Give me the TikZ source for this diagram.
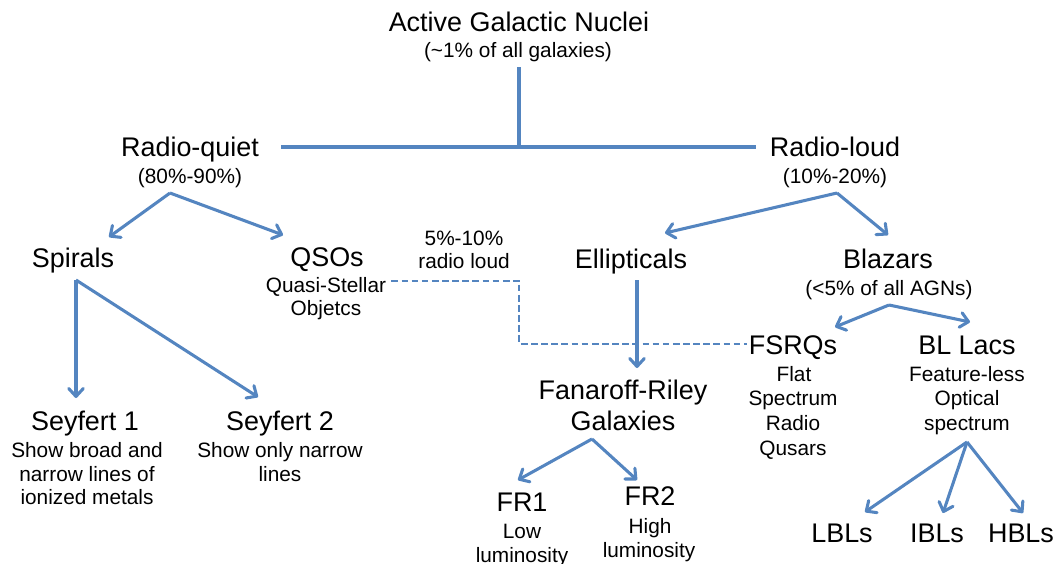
\documentclass[tikz,border=0pt]{standalone}
\usepackage{fontspec}
\setmainfont{Liberation Sans}
\usetikzlibrary{arrows.meta,calc}
\definecolor{ln}{RGB}{84,133,192}
\begin{document}
\begin{tikzpicture}[x=0.75pt,y=-0.75pt,
  big/.style={inner sep=0pt,text height=14.5pt,text depth=0pt,font=\fontsize{20.2pt}{24pt}\selectfont},
  small/.style={inner sep=0pt,text height=11.2pt,text depth=0pt,font=\fontsize{15.6pt}{19pt}\selectfont},
  link/.style={draw=ln,line width=2.3pt},
  arr/.style={link,-{Straight Barb[length=6pt,width=11pt,round]}},
  dashlink/.style={draw=ln,line width=1.6pt,dash pattern=on 5pt off 2.6pt}]
\useasboundingbox (0,0) rectangle (1058,564);
% nodes
\node[big]   (agn)  at (519,22)  {Active Galactic Nuclei};
\node[small] (agnp) at (518,50)  {(\textasciitilde1\% of all galaxies)};
\node[big]   (rq)   at (190,147) {Radio-quiet};
\node[small] (rqp)  at (190,176) {(80\%-90\%)};
\node[big]   (rl)   at (835,147) {Radio-loud};
\node[small] (rlp)  at (835,176) {(10\%-20\%)};
\node[big]   (sp)   at (73,258)  {Spirals};
\node[big]   (qso)  at (327,257) {QSOs};
\node[small] (qso1) at (326,285) {Quasi-Stellar};
\node[small] (qso2) at (326,308) {Objetcs};
\node[small] (rl5)  at (464,238) {5\%-10\%};
\node[small] (rl6)  at (464,261) {radio loud};
\node[big]   (ell)  at (631,259) {Ellipticals};
\node[big]   (bla)  at (888,259) {Blazars};
\node[small] (blap) at (889,288) {(<5\% of all AGNs)};
\node[big]   (fsrq) at (793,345) {FSRQs};
\node[small] (fsa)  at (794,374) {Flat};
\node[small] (fsb)  at (793,398) {Spectrum};
\node[small] (fsc)  at (793,423) {Radio};
\node[small] (fsd)  at (793,448) {Qusars};
\node[big]   (bll)  at (967,345) {BL Lacs};
\node[small] (bla1) at (967,374) {Feature-less};
\node[small] (bla2) at (967,398) {Optical};
\node[small] (bla3) at (967,423) {spectrum};
\node[big]   (fr)   at (623,390) {Fanaroff-Riley};
\node[big]   (frg)  at (623,421) {Galaxies};
\node[big]   (fr1)  at (522,502) {FR1};
\node[small] (fr1a) at (522,531) {Low};
\node[small] (fr1b) at (522,555) {luminosity};
\node[big]   (fr2)  at (650,496) {FR2};
\node[small] (fr2a) at (650,526) {High};
\node[small] (fr2b) at (649,550) {luminosity};
\node[big]   (sy1)  at (85,421)  {Seyfert 1};
\node[small] (sy1a) at (87,450)  {Show broad and};
\node[small] (sy1b) at (87,474)  {narrow lines of};
\node[small] (sy1c) at (87,497)  {ionized metals};
\node[big]   (sy2)  at (280,421) {Seyfert 2};
\node[small] (sy2a) at (280,450) {Show only narrow};
\node[small] (sy2b) at (280,474) {lines};
\node[big]   (lbl)  at (842,533) {LBLs};
\node[big]   (ibl)  at (937,533) {IBLs};
\node[big]   (hbl)  at (1021,533) {HBLs};
% fork points
\coordinate (j)    at ($(agnp)+(1,97)$);
\coordinate (rqf)  at ($(rqp)+(-20,17)$);
\coordinate (rlf)  at ($(rlp)+(2,17)$);
\coordinate (spf)  at ($(sp)+(3,22)$);
\coordinate (blaf) at ($(blap)+(0,17)$);
\coordinate (frf)  at ($(frg)+(-31,18)$);
\coordinate (bllf) at ($(bla3)+(0,19)$);
% connectors
\draw[link] ($(agnp)+(1,17)$) -- (j);
\draw[link] ($(rq.east)+(22,0)$) -- ($(rl.west)+(-14,0)$);
\draw[arr] (rqf) -- ($(sp)+(36,-21)$);
\draw[arr] (rqf) -- ($(qso)+(-44,-22)$);
\draw[arr] (rlf) -- ($(ell)+(34,-26)$);
\draw[arr] (rlf) -- ($(bla)+(0,-24)$);
\draw[arr] (spf) -- ($(sy1)+(-9,-23)$);
\draw[arr] (spf) -- ($(sy2)+(-22,-24)$);
\draw[arr] ($(ell)+(6,21)$) -- ($(fr)+(14,-22)$);
\draw[arr] (blaf) -- ($(fsrq)+(42,-18)$);
\draw[arr] (blaf) -- ($(bll)+(3,-23)$);
\draw[arr] (frf) -- ($(fr1)+(-4,-22)$);
\draw[arr] (frf) -- ($(fr2)+(-13,-16)$);
\draw[arr] (bllf) -- ($(lbl)+(23,-21)$);
\draw[arr] (bllf) -- ($(ibl)+(6,-20)$);
\draw[arr] (bllf) -- ($(hbl)+(2,-20)$);
\draw[dashlink] ($(qso1.east)+(5,-4)$) -- ++(128,0) |- ($(fsrq.west)+(-2,-1)$);
\end{tikzpicture}
\end{document}
